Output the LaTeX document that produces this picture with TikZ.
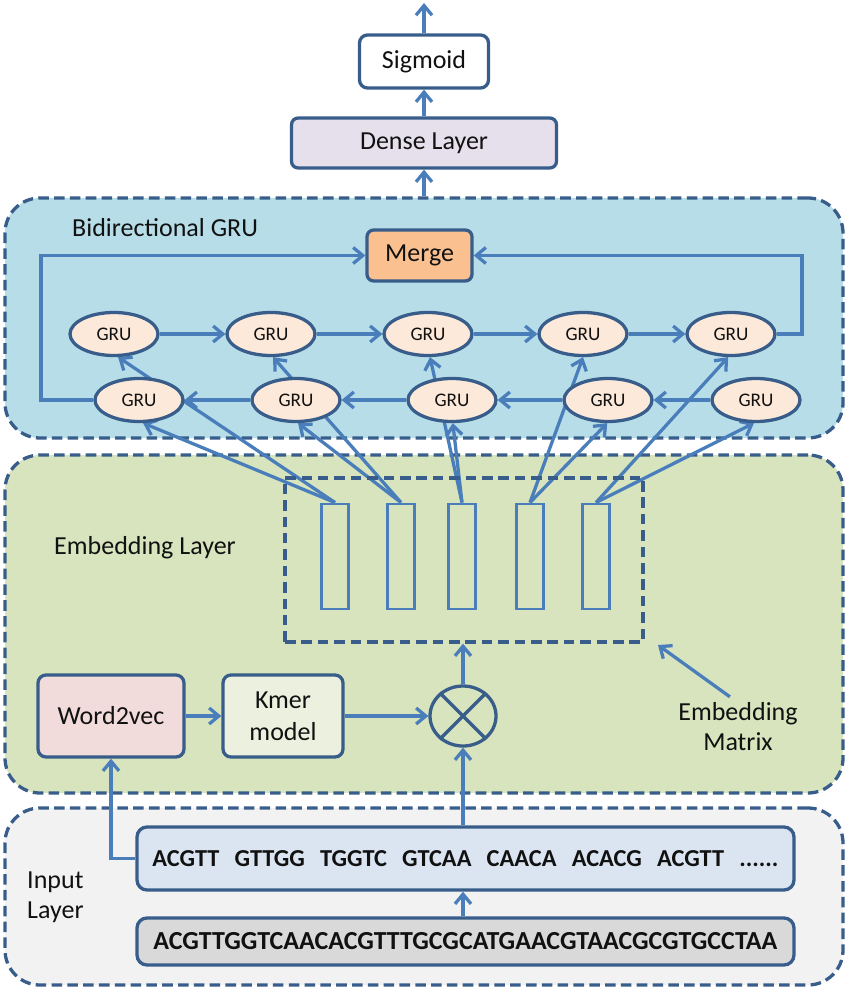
\documentclass[tikz,border=0pt]{standalone}
\usepackage{fontspec}
\setmainfont{Carlito}
\usetikzlibrary{arrows.meta,shapes.geometric,calc}
\pgfdeclarelayer{panel}
\pgfdeclarelayer{wires}
\pgfsetlayers{panel,wires,main}

\definecolor{wire}{HTML}{4A7EBB}
\definecolor{edge}{HTML}{385D8A}
\definecolor{ink}{HTML}{111111}
\definecolor{gruback}{HTML}{B7DEE8}
\definecolor{embback}{HTML}{D7E4BD}
\definecolor{inback}{HTML}{F2F2F2}
\definecolor{mergefill}{HTML}{FAC090}
\definecolor{grufill}{HTML}{FDE9D9}
\definecolor{densefill}{HTML}{E6E0EC}
\definecolor{w2vfill}{HTML}{F2DCDB}
\definecolor{kmerfill}{HTML}{EBF1DE}
\definecolor{kstrfill}{HTML}{DBE5F1}
\definecolor{seqfill}{HTML}{D9D9D9}

\newcommand\pxl[1]{#1*0.03cm}

\begin{document}
\begin{tikzpicture}[x=0.03cm,y=-0.03cm,
  every node/.style={text=ink, font=\fontsize{22.2}{26}\selectfont},
  wire/.style={draw=wire, line width=2.8pt, -{Straight Barb[length=2.9mm,width=4.8mm,line width=2.8pt]}},
  panelbox/.style={rectangle, draw=edge, line width=2.8pt, dash pattern=on 9pt off 4.5pt,
    rounded corners=1.05cm, inner sep=0pt},
  box/.style={rectangle, draw=edge, line width=2.8pt, rounded corners=0.24cm, inner sep=0pt, align=center},
  grunode/.style={ellipse, draw=edge, line width=2.8pt, fill=grufill, inner sep=0pt,
    minimum width=\pxl{88}, minimum height=\pxl{43}, font=\fontsize{16.4}{19}\selectfont},
  vecbox/.style={rectangle, draw=wire, line width=2.5pt, inner sep=0pt,
    minimum width=\pxl{27}, minimum height=\pxl{105}},
  plain/.style={inner sep=0pt}
]
\useasboundingbox (0,0) rectangle (847,990);

% ---------- layer panels ----------
\begin{pgfonlayer}{panel}
  \node[panelbox, fill=gruback, minimum width=\pxl{838}, minimum height=\pxl{240}] (bgru) at (424,318) {};
  \node[panelbox, fill=embback, minimum width=\pxl{838}, minimum height=\pxl{338}] (emb) at (424,624) {};
  \node[panelbox, fill=inback, minimum width=\pxl{838}, minimum height=\pxl{177}] (inp) at (424,896.5) {};
\end{pgfonlayer}

% ---------- panel titles ----------
\node[plain, anchor=west] (bgrutitle) at (72,228) {Bidirectional GRU};
\node[plain, anchor=west] (embtitle) at (54,548) {Embedding Layer};
\node[plain, anchor=west, align=left] (inptitle) at (27,897) {Input\\Layer};

% ---------- output stack ----------
\node[box, fill=white, minimum width=\pxl{129}, minimum height=\pxl{53}] (sig) at (424,61.5) {Sigmoid};
\node[box, fill=densefill, minimum width=\pxl{265}, minimum height=\pxl{50}, rounded corners=0.2cm] (dense) at (424,143) {Dense Layer};
\coordinate (out) at (424,3);

% ---------- bidirectional GRU ----------
\node[box, fill=mergefill, minimum width=\pxl{105}, minimum height=\pxl{51}, rounded corners=0.2cm] (merge) at (419.5,255.5) {Merge};
\foreach \i/\x in {1/114,2/271,3/428,4/583,5/731}
  \node[grunode] (gt\i) at (\x,334) {GRU};
\foreach \i/\x in {1/139,2/296,3/452,4/608,5/756}
  \node[grunode] (gb\i) at (\x,400) {GRU};
\coordinate (lx) at (41,0);
\coordinate (rx) at (802,0);

% ---------- embedding layer ----------
\foreach \i/\x in {1/335,2/401,3/462,4/530,5/596}
  \node[vecbox] (v\i) at (\x,556.5) {};
\node[rectangle, draw=edge, line width=2.8pt, dash pattern=on 9pt off 5pt, inner sep=0pt,
  minimum width=\pxl{358}, minimum height=\pxl{164}] (embmat) at (464,560) {};
\node[plain, align=center, font=\fontsize{22.2}{25.6}\selectfont] (emlabel) at (738,727) {Embedding\\Matrix};
\coordinate (mattip) at (658,645);

\node[box, fill=w2vfill, minimum width=\pxl{146}, minimum height=\pxl{82}] (w2v) at (111,716) {Word2vec};
\node[box, fill=kmerfill, minimum width=\pxl{120}, minimum height=\pxl{82}, font=\fontsize{22.2}{27}\selectfont] (kmer) at (283,716) {Kmer\\model};
\node[ellipse, draw=edge, line width=2.8pt, inner sep=0pt, minimum width=\pxl{66}, minimum height=\pxl{60}] (mult) at (463,716) {};
\draw[edge, line width=2.8pt] (mult.45) -- (mult.225) (mult.135) -- (mult.315);

% ---------- input layer ----------
\node[box, fill=kstrfill, minimum width=\pxl{657}, minimum height=\pxl{63}, rounded corners=0.3cm] (kstr) at (465.5,858.5)
  {\fontsize{20.8}{23}\selectfont\bfseries\makebox[18.78cm][s]{ACGTT GTTGG TGGTC GTCAA CAACA ACACG ACGTT ......}};
\node[box, fill=seqfill, minimum width=\pxl{657}, minimum height=\pxl{47}, rounded corners=0.3cm] (seq) at (465.5,941.5)
  {\fontsize{22.2}{24}\selectfont\bfseries ACGTTGGTCAACACGTTTGCGCATGAACGTAACGCGTGCCTAA};

% ---------- connectors ----------
\begin{pgfonlayer}{wires}
  % embedding vectors feed both directions
  \foreach \i/\a/\b in {1/-80/-80,2/-85/-85,3/-88/-85,4/-92/-90,5/-95/-97}{
    \draw[wire] (v\i.north) -- (gb\i.\a);
    \draw[wire] (v\i.north) -- (gt\i.\b);
  }
  % recurrent chains
  \foreach \i/\j in {1/2,2/3,3/4,4/5}{
    \draw[wire] (gt\i) -- (gt\j);
    \draw[wire] (gb\j) -- (gb\i);
  }
  % both ends into the merge
  \draw[wire] (gb1.west) -- (gb1.west -| lx) |- (merge.west);
  \draw[wire] (gt5.east) -- (gt5.east -| rx) |- (merge.east);
  % output stack
  \draw[wire] (dense.south |- bgru.north) -- (dense.south);
  \draw[wire] (dense.north) -- (sig.south);
  \draw[wire] (sig.north) -- (out);
  % embedding construction
  \draw[wire] (w2v.east) -- (kmer.west);
  \draw[wire] (kmer.east) -- (mult.west);
  \draw[wire] (mult.north) -- (mult.north |- embmat.south);
  \draw[wire, shorten <=\pxl{10}] (emlabel.north) -- (mattip);
  % input flow
  \draw[wire] (mult.south |- seq.north) -- (mult.south |- kstr.south);
  \draw[wire] (mult.south |- kstr.north) -- (mult.south);
  \draw[wire] (kstr.west) -| (w2v.south);
\end{pgfonlayer}
\end{tikzpicture}
\end{document}
